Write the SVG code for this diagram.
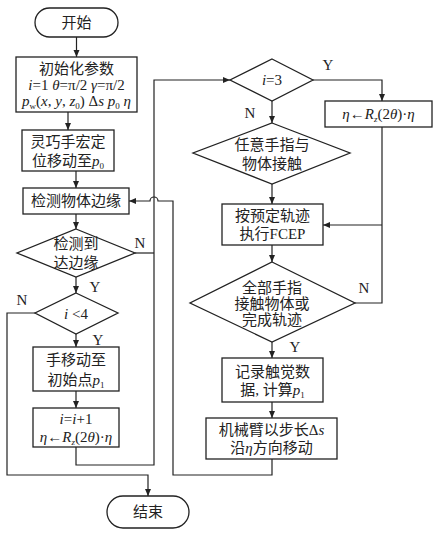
<svg xmlns="http://www.w3.org/2000/svg" width="440" height="533" viewBox="0 0 440 533">
<defs>
<marker id="ar" markerWidth="8" markerHeight="8" refX="7" refY="4" orient="auto" markerUnits="userSpaceOnUse">
<path d="M0,1 L7,4 L0,7 Z" fill="#222"/>
</marker>
<style>
.s{fill:#fff;stroke:#222;stroke-width:1.3}
.c{fill:none;stroke:#222;stroke-width:1.2}
text{font-family:"Liberation Serif","Noto Sans CJK SC",serif;font-size:15px;fill:#222;text-anchor:middle}
.i{font-style:italic}
</style>
</defs>
<rect width="440" height="533" fill="#fff"/>

<g id="start"><rect class="s" x="35" y="8" width="83" height="29" rx="14.5"/><text x="76.5" y="28">开始</text></g>
<g id="init"><rect class="s" x="16" y="57" width="121" height="55"/>
<text x="76.5" y="74">初始化参数</text>
<text x="76.5" y="90"><tspan class="i">i</tspan>=1 <tspan class="i">θ</tspan>=π/2 <tspan class="i">γ</tspan>=π/2</text>
<text x="76.5" y="106"><tspan class="i">p</tspan><tspan font-size="9" dy="3">w</tspan><tspan dy="-3">(</tspan><tspan class="i">x</tspan>, <tspan class="i">y</tspan>, <tspan class="i">z</tspan><tspan font-size="9" dy="3">0</tspan><tspan dy="-3">) Δ</tspan><tspan class="i">s p</tspan><tspan font-size="9" dy="3">0</tspan><tspan dy="-3" class="i"> η</tspan></text>
</g>
<g id="pos"><rect class="s" x="22" y="130" width="92" height="41"/>
<text x="68" y="147">灵巧手宏定</text>
<text x="68" y="166">位移动至<tspan class="i">p</tspan><tspan font-size="9" dy="3">0</tspan></text>
</g>
<g id="detect"><rect class="s" x="23" y="188" width="106" height="26"/><text x="76" y="206">检测物体边缘</text></g>
<g id="reach"><polygon class="s" points="76,229 135,253 76,277 17,253"/>
<text x="76" y="249">检测到</text><text x="76" y="268">达边缘</text></g>
<g id="ilt4"><polygon class="s" points="76,293 118,313 76,334 35,313"/>
<text x="76" y="319"><tspan class="i">i</tspan> &lt;4</text></g>
<g id="move1"><rect class="s" x="33" y="347" width="86" height="44"/>
<text x="76" y="365">手移动至</text>
<text x="76" y="385">初始点<tspan class="i">p</tspan><tspan font-size="9" dy="3">1</tspan></text></g>
<g id="inc"><rect class="s" x="33" y="408" width="86" height="39"/>
<text x="76" y="424"><tspan class="i">i</tspan>=<tspan class="i">i</tspan>+1</text>
<text x="76" y="442"><tspan class="i">η</tspan>←<tspan class="i">R</tspan><tspan font-size="9" dy="3" class="i">z</tspan><tspan dy="-3">(2</tspan><tspan class="i">θ</tspan>)·<tspan class="i">η</tspan></text></g>
<g id="end"><rect class="s" x="107" y="496" width="82" height="32" rx="16"/><text x="148" y="517">结束</text></g>

<g id="i3"><polygon class="s" points="272,59 313,80 272,101 230,80"/>
<text x="272" y="85"><tspan class="i">i</tspan>=3</text></g>
<g id="rot"><rect class="s" x="325" y="101" width="107" height="26"/>
<text x="378.5" y="119"><tspan class="i">η</tspan>←<tspan class="i">R</tspan><tspan font-size="9" dy="3" class="i">z</tspan><tspan dy="-3">(2</tspan><tspan class="i">θ</tspan>)·<tspan class="i">η</tspan></text></g>
<g id="anyf"><polygon class="s" points="272,123 350,153 272,184 193,153"/>
<text x="272" y="150">任意手指与</text><text x="272" y="169">物体接触</text></g>
<g id="fcep"><rect class="s" x="222" y="204" width="101" height="41"/>
<text x="272.5" y="221">按预定轨迹</text><text x="272.5" y="239">执行FCEP</text></g>
<g id="allf"><polygon class="s" points="272,262 355,303 272,342 190,303"/>
<text x="272" y="293">全部手指</text><text x="272" y="309">接触物体或</text><text x="272" y="325">完成轨迹</text></g>
<g id="rec"><rect class="s" x="222" y="358" width="101" height="44"/>
<text x="272.5" y="377">记录触觉数</text>
<text x="272.5" y="395">据, 计算<tspan class="i">p</tspan><tspan font-size="9" dy="3">1</tspan></text></g>
<g id="arm"><rect class="s" x="206" y="418" width="131" height="41"/>
<text x="271.5" y="435">机械臂以步长Δ<tspan class="i">s</tspan></text>
<text x="271.5" y="453">沿<tspan class="i">η</tspan>方向移动</text></g>

<g id="connectors">
<path class="c" d="M76.5,37 V57" marker-end="url(#ar)"/>
<path class="c" d="M68,112 V130" marker-end="url(#ar)"/>
<path class="c" d="M76,171 V188" marker-end="url(#ar)"/>
<path class="c" d="M76,214 V229" marker-end="url(#ar)"/>
<path class="c" d="M76,277 V293" marker-end="url(#ar)"/>
<path class="c" d="M76,334 V347" marker-end="url(#ar)"/>
<path class="c" d="M76,391 V408" marker-end="url(#ar)"/>
<path class="c" d="M135,253 H154"/>
<path class="c" d="M76,447 V465 H154 V80 H230" marker-end="url(#ar)"/>
<path class="c" d="M35,313 H7 V475 H148 V496" marker-end="url(#ar)"/>
<path class="c" d="M272,459 V475 H173 V201 H158 A4,4 0 0 0 150,201 H129" marker-end="url(#ar)"/>
<path class="c" d="M313,80 H382 V101" marker-end="url(#ar)"/>
<path class="c" d="M382,127 V303 H355"/>
<path class="c" d="M382,225 H323" marker-end="url(#ar)"/>
<path class="c" d="M272,101 V123" marker-end="url(#ar)"/>
<path class="c" d="M272,184 V204" marker-end="url(#ar)"/>
<path class="c" d="M272,245 V262" marker-end="url(#ar)"/>
<path class="c" d="M272,342 V358" marker-end="url(#ar)"/>
<path class="c" d="M272,402 V418" marker-end="url(#ar)"/>
<text x="140" y="248">N</text>
<text x="95" y="292">Y</text>
<text x="22" y="305">N</text>
<text x="98" y="345">Y</text>
<text x="328" y="70">Y</text>
<text x="250" y="118">N</text>
<text x="364" y="293">N</text>
<text x="295" y="352">Y</text>
</g>
</svg>
